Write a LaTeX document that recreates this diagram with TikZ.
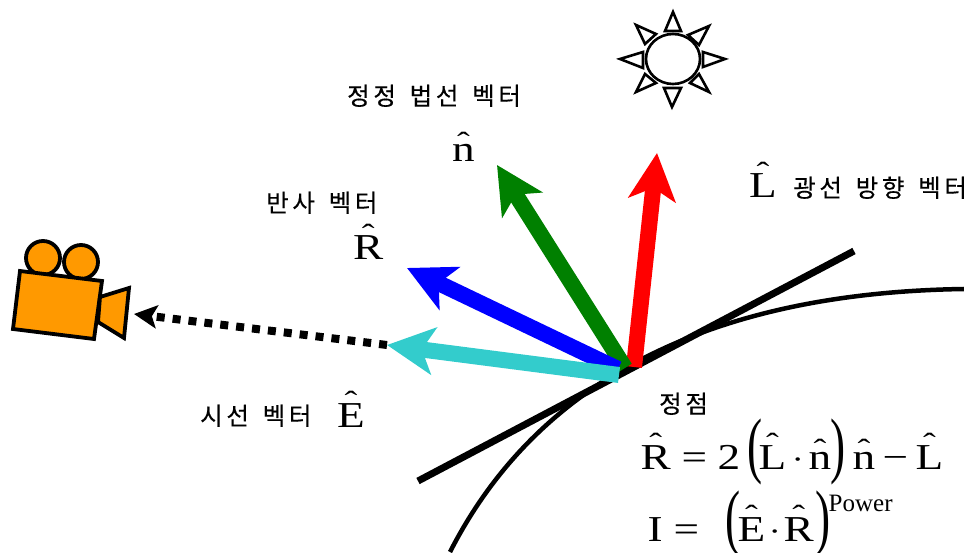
\documentclass[tikz,border=0pt]{standalone}
\usepackage{fontspec}
\usepackage{graphicx}
\usetikzlibrary{arrows.meta}
\setmainfont{Liberation Serif}
\newfontfamily\cjk[LetterSpace=15,WordSpace=1.5,FakeBold=0.4]{Noto Sans CJK KR}
\newfontfamily\lat[FakeStretch=1.24]{Liberation Serif}
\newcommand\hatx[1]{\setbox0\hbox{#1}\makebox[0pt][l]{\makebox[\wd0]{\raisebox{\dimexpr\ht0-8pt\relax}{\scalebox{0.85}[0.8]{\char"02C6}}}}#1}
\newcommand\putat[2]{\makebox[0pt][l]{\kern#1pt\relax #2}}
\newcommand\tallp[1]{\scalebox{1}[2]{#1}}
\definecolor{camorange}{HTML}{FF9900}
\definecolor{viewcyan}{HTML}{33CCCC}
\definecolor{normgreen}{HTML}{008000}
\tikzset{
  vec/.style={line width=16pt,-{Stealth[length=47pt,width=47pt,inset=12pt]}},
  ko/.style={anchor=base west,inner sep=0pt,font=\fontsize{24.5}{24.5}\selectfont\cjk},
  sym/.style={anchor=base west,inner sep=0pt,font=\fontsize{36.5}{36.5}\selectfont\lat},
  ray/.style={draw=black,line width=2.6pt,fill=white,line join=miter},
  cam/.style={draw=black,line width=3.8pt,fill=camorange,line join=miter},
}
\begin{document}
\begin{tikzpicture}[x=1pt,y=-1pt]
\useasboundingbox (0,0) rectangle (964,553);
\clip (0,0) rectangle (964,553);
% surface and tangent
\coordinate (sa) at (450,552);
\coordinate (sb) at (964,289);
\coordinate (ta) at (418,481);
\coordinate (tb) at (854,251);
\draw[line width=4.5pt] (sa) .. controls (530,395) and (690,293) .. (sb);
\draw[line width=7pt] (ta) -- (tb);
% sun
\draw[ray] (673,59) ellipse [x radius=27,y radius=25];
\draw[ray] (673,12) -- (665,31) -- (681,31) -- cycle;
\draw[ray] (725,59) -- (703,52) -- (703,67) -- cycle;
\draw[ray] (672,107) -- (664,88) -- (681,88) -- cycle;
\draw[ray] (620,59) -- (643,52) -- (643,68) -- cycle;
\draw[ray] (709,26) -- (688,35) -- (699,45) -- cycle;
\draw[ray] (636,25) -- (656,34) -- (645,44) -- cycle;
\draw[ray] (709,92) -- (690,83) -- (699,74) -- cycle;
\draw[ray] (636,92) -- (656,83) -- (645,74) -- cycle;
% camera
\draw[cam] (43,258) circle [radius=17];
\draw[cam] (81,262) circle [radius=17];
\draw[cam] (20,271) -- (102,281) -- (94,339) -- (13,329) -- cycle;
\draw[cam] (100,297) -- (129,288) -- (124,338) -- (98,322) -- cycle;
% vectors
\coordinate (ptip) at (134,314);
\coordinate (etip) at (387,345);
\coordinate (etail) at (619,375);
\coordinate (rtip) at (407,268);
\coordinate (rtail) at (618,369);
\coordinate (ntip) at (497,165);
\coordinate (ntail) at (625,368);
\coordinate (ltip) at (657,153);
\coordinate (ltail) at (634,367);
\draw[line width=8pt,dash pattern=on 8pt off 8pt,-{Stealth[length=23pt,width=23pt,inset=5pt]}] (etip) -- (ptip);
\draw[vec,red] (ltail) -- (ltip);
\draw[vec,normgreen] (ntail) -- (ntip);
\draw[vec,blue] (rtail) -- (rtip);
\draw[vec,viewcyan] (etail) -- (etip);
% labels
\node[ko] (t1) at (347,105) {정정 법선 벡터};
\node[sym] (t2) at (452,162) {\hatx{n}};
\node[ko] (t3) at (266,212) {반사 벡터};
\node[sym] (t4) at (353,260) {\hatx{R}};
\node[sym] (t5) at (749,198) {\hatx{L}};
\node[ko] (t6) at (793,197) {광선 방향 벡터};
\node[ko] (t7) at (200,425) {시선 벡터};
\node[sym] (t8) at (337,427) {\hatx{E}};
\node[ko] (t9) at (659,413) {정점};
\node[sym] (f1) at (640,469) {\putat{0}{\hatx{R}}\putat{41}{=}\putat{77}{2}\putat{107}{\tallp{(}}\putat{118}{\hatx{L}}\putat{151}{\fontsize{30}{30}\selectfont·}\putat{168}{\hatx{n}}\putat{190}{\tallp{)}}\putat{212}{\hatx{n}}\putat{242}{−}\putat{275}{\hatx{L}}};
\node[sym] (f2) at (640,541) {\putat{7}{I}\putat{33}{=}\putat{85}{\tallp{(}}\putat{97}{\hatx{E}}\putat{128}{\fontsize{30}{30}\selectfont·}\putat{143}{\hatx{R}}\putat{175}{\tallp{)}}\putat{188}{\raisebox{30pt}{\fontsize{25}{25}\selectfont\rmfamily Power}}};
\end{tikzpicture}
\end{document}
